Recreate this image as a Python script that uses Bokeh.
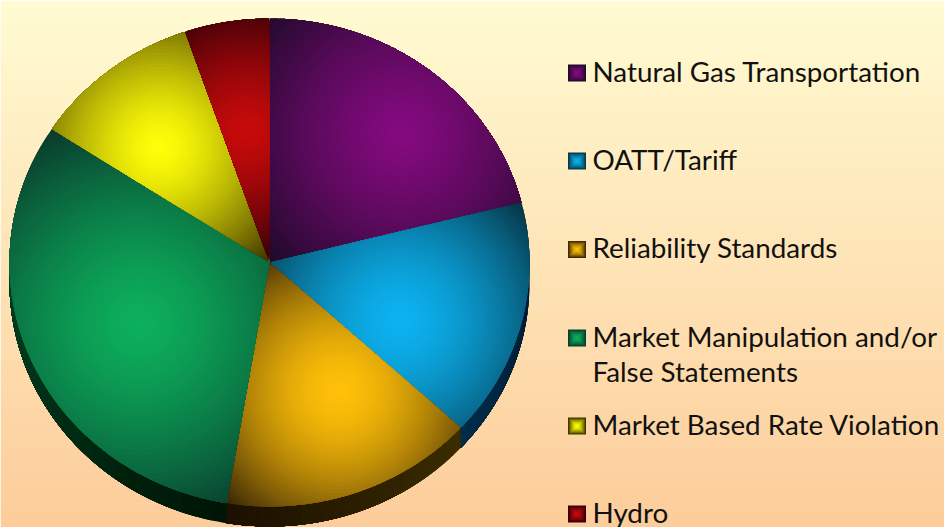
import numpy as np
from bokeh.plotting import figure
from bokeh.models import Range1d, CustomJS
from bokeh.events import DocumentReady
from bokeh.core.properties import value
from bokeh.embed import file_html
from bokeh.resources import INLINE

# ---- data (case counts, clockwise from 12 o'clock) ----
categories = ["Natural Gas Transportation", "OATT/Tariff", "Reliability Standards",
              "Market Manipulation and/or\nFalse Statements", "Market Based Rate Violation", "Hydro"]
counts = [4, 3, 3, 6, 2, 1]

# ---- style ----
bright = ["#850a80", "#0cb2f0", "#ffc008", "#0cb05c", "#ffff08", "#c80a0a"]
dark = ["#1e0a28", "#063444", "#3a2606", "#0a3a2c", "#3a3000", "#300008"]
falloff = [1.3, 1.6, 1.7, 1.4, 1.5, 1.4]
focus_x = [402, 399, 339, 139, 159, 246]
focus_y = [133, 320, 390, 323, 147, 130]
side_from = ["#000000", "#001830", "#3a2c00", "#001505", "#000000", "#000000"]
side_to = ["#000000", "#002c48", "#1c1000", "#004020", "#000000", "#000000"]
legend_row_y = [72.5, 160.5, 249, 337.5, 425.5, 513.5]
legend_text_y = [[71], [158.5], [247], [336, 371], [424], [511.5]]
BG_TOP, BG_BOTTOM = "#fffbd2", "#fdcc9a"
CX, CY, RX, RY, DEPTH = 269, 262, 260, 244, 20
FONT = "Lato"
FONT_SIZE = "27.8px"
LEVELS = 44
RAYS = 360


def rgb(h):
    return np.array([int(h[i:i + 2], 16) for i in (1, 3, 5)], float)


def mix(a, b, k):
    c = rgb(a) * (1 - k) + rgb(b) * k
    return "#%02x%02x%02x" % tuple(int(round(v)) for v in c)


def rim(theta):
    return CX + RX * np.sin(theta), CY - RY * np.cos(theta)


p = figure(width=944, height=527, output_backend="svg", toolbar_location=None,
           x_range=Range1d(0, 944), y_range=Range1d(527, 0), min_border=0,
           x_axis_type=None, y_axis_type=None, outline_line_color=None)
p.grid.visible = False

# background gradient
edges = np.linspace(0, 527, 131)
fr = edges[:-1] / 527
p.quad(left=0, right=944, top=edges[:-1], bottom=edges[1:] + 0.6,
       fill_color=[mix(BG_TOP, BG_BOTTOM, k) for k in fr], line_color=None)

shares = np.array(counts, float) / sum(counts)
stops = np.concatenate([[0], np.cumsum(shares)]) * 2 * np.pi

# side wall
xs, ys, cols = [], [], []
for i in range(len(counts)):
    a, b = max(stops[i], np.pi / 2), min(stops[i + 1], 3 * np.pi / 2)
    if b <= a:
        continue
    n = 24
    for j in range(n):
        t0 = a + (b - a) * j / n
        th = np.linspace(t0, b, 80)
        x, y = rim(th)
        xs.append(np.concatenate([x, x[::-1]]))
        ys.append(np.concatenate([y, y[::-1] + DEPTH]))
        cols.append(mix(side_from[i], side_to[i], j / (n - 1)))
p.patches(xs, ys, fill_color=cols, line_color=None)

# top surface: radial gradient clipped to each wedge
xs, ys, cols = [], [], []
for i in range(len(counts)):
    th = np.linspace(stops[i], stops[i + 1], 240)
    ax, ay = rim(th)
    f = np.linspace(0, 1, 150)
    ex0, ey0 = CX + (ax[0] - CX) * f, CY + (ay[0] - CY) * f
    ex1, ey1 = CX + (ax[-1] - CX) * f[::-1], CY + (ay[-1] - CY) * f[::-1]
    bx = np.concatenate([ex0, ax, ex1])
    by = np.concatenate([ey0, ay, ey1])
    fx, fy = focus_x[i], focus_y[i]
    ang = np.arctan2(by - fy, bx - fx)
    dist = np.hypot(bx - fx, by - fy)
    order = np.argsort(ang)
    rays = np.linspace(-np.pi, np.pi, RAYS, endpoint=False)
    d = np.interp(rays, ang[order], dist[order], period=2 * np.pi)
    rmax = dist.max()
    xs.append(bx)
    ys.append(by)
    cols.append(dark[i])
    for lv in range(1, LEVELS + 1):
        k = 1 - lv / LEVELS
        r = rmax * k + 1.0
        rr = np.minimum(d, r)
        xs.append(fx + rr * np.cos(rays))
        ys.append(fy + rr * np.sin(rays))
        cols.append(mix(bright[i], dark[i], k ** falloff[i]))
p.patches(xs, ys, fill_color=cols, line_color=None)

# legend swatches
lx, ly, lw, lh, lc = [], [], [], [], []
SW, SH = 18, 17
for i, yc in enumerate(legend_row_y):
    for lv in range(12):
        k = 1 - lv / 11
        lx.append(576.5)
        ly.append(yc)
        lw.append(max(SW * k, 1))
        lh.append(max(SH * k, 1))
        lc.append(mix(bright[i], dark[i], k ** 1.7))
p.rect(lx, ly, lw, lh, fill_color=lc, line_color=None)

# legend labels
tx, ty, tt = [], [], []
for cat, rows in zip(categories, legend_text_y):
    for line, y in zip(cat.split("\n"), rows):
        tx.append(592)
        ty.append(y)
        tt.append(line)
p.text(tx, ty, text=tt, text_font=value(FONT), text_font_size=value(FONT_SIZE),
       text_color="#111111", text_align="left", text_baseline="middle")

p.js_on_event(DocumentReady, CustomJS(code="document.body.style.margin='0';"))

open("out.html", "w").write(file_html(p, INLINE))
